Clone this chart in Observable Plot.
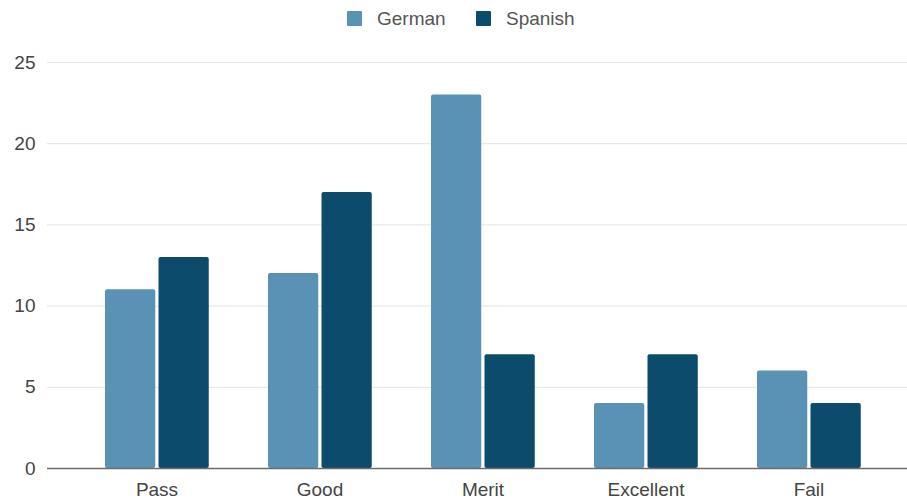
<!DOCTYPE html>
<html><head><meta charset="utf-8">
<script src="https://cdn.jsdelivr.net/npm/d3@7"></script>
<script src="https://cdn.jsdelivr.net/npm/@observablehq/plot@0.6"></script>
<style>
html,body{margin:0;padding:0;background:#fff;font-family:"Liberation Sans",Arial,sans-serif;}
#legend{height:37px;position:relative;width:907px;}
.item{position:absolute;top:0;height:37px;display:flex;align-items:center;font-size:19px;color:#555;}
.sw{width:15px;height:15px;margin-right:15px;border-radius:1px;}
#chart svg{display:block;}
#chart svg text{fill:#444;}
</style></head><body>
<div id="legend"></div>
<div id="chart"></div>
<script>
const categories = ["Pass", "Good", "Merit", "Excellent", "Fail"];
const series = ["German", "Spanish"];
const german = [11, 12, 23, 4, 6];
const spanish = [13, 17, 7, 7, 4];
const yTicks = [0, 5, 10, 15, 20, 25];
const colors = ["#5a92b5", "#0d4b6c"];

// legend (HTML, above the SVG)
const legendLeft = [347, 476];
const legend = document.getElementById("legend");
series.forEach((s, i) => {
  const it = document.createElement("div");
  it.className = "item";
  it.style.left = legendLeft[i] + "px";
  const sw = document.createElement("span");
  sw.className = "sw";
  sw.style.background = colors[i];
  const tx = document.createElement("span");
  tx.textContent = s;
  it.appendChild(sw); it.appendChild(tx);
  legend.appendChild(it);
});

const rows = categories.flatMap((c, i) => [
  {category: c, series: series[0], value: german[i]},
  {category: c, series: series[1], value: spanish[i]}
]);

const x0 = 74.4, x1 = 890.6;
const bw = (x1 - x0) / categories.length;
const barW = 50.5;

const plot = Plot.plot({
  width: 907,
  height: 462,
  marginTop: 25,
  marginBottom: 31,
  marginLeft: 47,
  marginRight: 0,
  style: {fontFamily: "Liberation Sans, Arial, sans-serif", fontSize: "19px", background: "#fff", overflow: "visible"},
  x: {domain: categories, range: [x0, x1], padding: 0, label: null, tickSize: 0, tickPadding: 14},
  y: {domain: [0, 25], label: null, ticks: yTicks, tickSize: 0, tickPadding: 12},
  color: {domain: series, range: colors},
  marks: [
    Plot.ruleY(yTicks.filter(d => d > 0), {stroke: "#e3e3e3", strokeWidth: 1}),
    Plot.barY(rows.filter(d => d.series === series[0]), {
      x: "category", y: "value", fill: "series",
      insetLeft: 30, insetRight: bw - 30 - barW, rx: 2
    }),
    Plot.barY(rows.filter(d => d.series === series[1]), {
      x: "category", y: "value", fill: "series",
      insetLeft: 30 + barW + 3, insetRight: bw - 30 - 2 * barW - 3, rx: 2
    }),
    Plot.ruleY([0], {stroke: "#6b6b6b", strokeWidth: 1.5})
  ]
});
document.getElementById("chart").appendChild(plot);
</script>
</body></html>
